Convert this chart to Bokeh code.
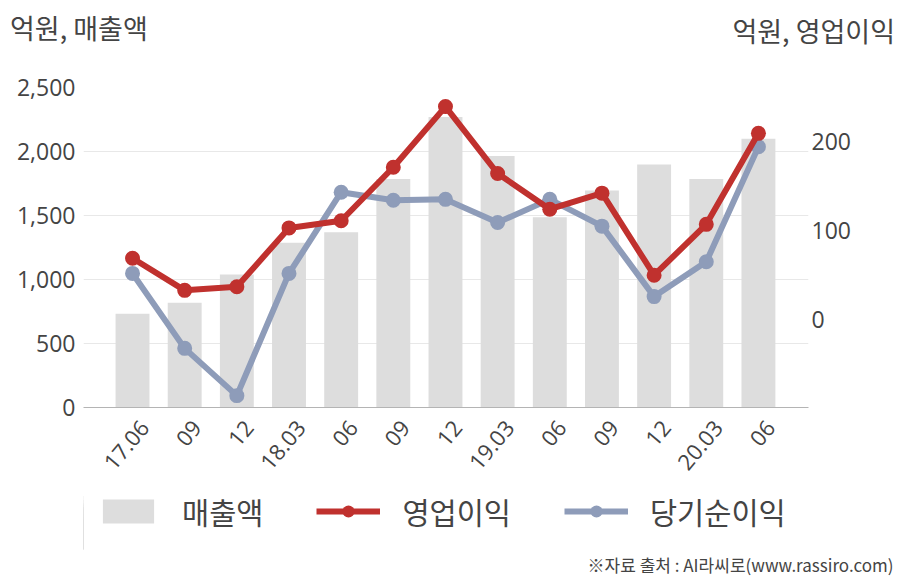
import math
from bokeh.plotting import figure
from bokeh.layouts import column
from bokeh.models import (Range1d, LinearAxis, FixedTicker, NumeralTickFormatter,
                          Legend, LegendItem, Title, Div, ColumnDataSource)
from bokeh.embed import file_html
from bokeh.resources import INLINE

# ---- data ----
periods = ["17.06", "09", "12", "18.03", "06", "09", "12", "19.03", "06", "09", "12", "20.03", "06"]
sales = [732, 818, 1039, 1287, 1370, 1786, 2270, 1965, 1487, 1695, 1898, 1786, 2099]
op_profit = [69, 33, 37, 103, 111, 171, 239, 164, 124, 142, 50, 107, 209]
net_profit = [52, -32, -85, 52, 143, 134, 135, 109, 135, 105, 26, 65, 194]
left_ticks = [0, 500, 1000, 1500, 2000, 2500]
right_ticks = [0, 100, 200]
series_names = ["매출액", "영업이익", "당기순이익"]
left_unit = "억원, 매출액"
right_unit = "억원, 영업이익"
source_note = "※자료 출처 : AI라씨로(www.rassiro.com)"

idx = list(range(len(periods)))
src = ColumnDataSource(dict(x=idx, sales=sales, op=op_profit, net=net_profit))

KFONT = "Noto Sans CJK KR"
NFONT = "Open Sans"
TXT = "#444444"
RED = "#C0312E"
BLUE = "#8E9CB9"
BAR = "#DDDDDD"
W = 908

# ---- header with unit captions ----
header = Div(
    text=(f'<div style="position:relative;width:{W}px;height:60px;'
          f"font-family:'{KFONT}';font-size:27px;line-height:27px;color:{TXT};\">"
          f'<span style="position:absolute;left:10px;top:14px;white-space:nowrap;">{left_unit}</span>'
          f'<span style="position:absolute;right:13px;top:17px;white-space:nowrap;">{right_unit}</span>'
          f'</div>'),
    width=W, height=60, margin=0)

# ---- main chart ----
p = figure(width=W, height=430, output_backend="svg", toolbar_location=None, title=None,
           x_range=Range1d(-0.94, 12.96), y_range=Range1d(0, 2500),
           min_border_left=83, min_border_right=100, min_border_top=27, min_border_bottom=83)
p.outline_line_color = None
p.extra_y_ranges = {"op": Range1d(-98.3, 260.4)}

p.vbar(x="x", top="sales", width=0.65, source=src, fill_color=BAR, line_color=None)
p.line(x="x", y="net", source=src, y_range_name="op", line_color=BLUE, line_width=6)
p.scatter(x="x", y="net", source=src, y_range_name="op", size=15, fill_color=BLUE, line_color=None)
p.line(x="x", y="op", source=src, y_range_name="op", line_color=RED, line_width=6)
p.scatter(x="x", y="op", source=src, y_range_name="op", size=15, fill_color=RED, line_color=None)

xa = p.xaxis[0]
tick_pos = [round(i + 0.23, 2) for i in idx]
xa.ticker = FixedTicker(ticks=tick_pos)
xa.major_label_overrides = {t: s for t, s in zip(tick_pos, periods)}
xa.major_label_orientation = math.radians(50)
xa.axis_line_color = "#B4B4B4"
xa.major_tick_line_color = None
xa.major_tick_out = 0
xa.minor_tick_line_color = None
xa.major_label_text_font = NFONT
xa.major_label_text_font_size = "22px"
xa.major_label_text_color = TXT
xa.major_label_standoff = 16

ya = p.yaxis[0]
ya.ticker = FixedTicker(ticks=left_ticks)
ya.formatter = NumeralTickFormatter(format="0,0")
ya.axis_line_color = None
ya.major_tick_line_color = None
ya.major_tick_out = 0
ya.minor_tick_line_color = None
ya.major_label_text_font = NFONT
ya.major_label_text_font_size = "23px"
ya.major_label_text_color = TXT
ya.major_label_standoff = 8

ra = LinearAxis(y_range_name="op", ticker=FixedTicker(ticks=right_ticks))
ra.axis_line_color = None
ra.major_tick_line_color = None
ra.major_tick_out = 0
ra.minor_tick_line_color = None
ra.major_label_text_font = NFONT
ra.major_label_text_font_size = "23px"
ra.major_label_text_color = TXT
ra.major_label_standoff = 3
p.add_layout(ra, "right")

p.xgrid.grid_line_color = None
p.ygrid.grid_line_color = "#E8E8E8"

# ---- footer: legend + source note ----
# legend proxies draw the same data, but this figure's x range keeps them out of view
foot = figure(width=W, height=90, output_backend="svg", toolbar_location=None, title=None,
              x_range=Range1d(20, 40), y_range=Range1d(0, 2500),
              x_axis_type=None, y_axis_type=None, min_border=0, min_border_bottom=31)
foot.outline_line_color = None
foot.background_fill_color = "white"
foot.border_fill_color = "white"
foot.grid.visible = False
f_bar = foot.vbar(x="x", top="sales", width=0.65, source=src, fill_color=BAR, line_color=None)
f_rl = foot.line(x="x", y="op", source=src, line_color=RED, line_width=6)
f_rs = foot.scatter(x="x", y="op", source=src, size=15, fill_color=RED, line_color=None)
f_bl = foot.line(x="x", y="net", source=src, line_color=BLUE, line_width=6)
f_bs = foot.scatter(x="x", y="net", source=src, size=15, fill_color=BLUE, line_color=None)

legend = Legend(items=[
    LegendItem(label=series_names[0], renderers=[f_bar]),
    LegendItem(label=series_names[1], renderers=[f_rl, f_rs]),
    LegendItem(label=series_names[2], renderers=[f_bl, f_bs]),
], orientation="horizontal", location=(13, 17),
    glyph_width=64, glyph_height=30, label_height=38, label_standoff=22, spacing=53,
    label_text_font=KFONT, label_text_font_size="29.5px", label_text_color=TXT,
    border_line_color=None, background_fill_alpha=0, padding=0, margin=0)
foot.add_layout(legend, "center")

foot.add_layout(Title(text=source_note, align="right", offset=-85, text_font=KFONT,
                      text_font_size="17px", text_color=TXT, text_font_style="normal",
                      standoff=0), "below")

layout = column(header, p, foot, spacing=0)
open("out.html", "w").write(file_html(layout, INLINE))
